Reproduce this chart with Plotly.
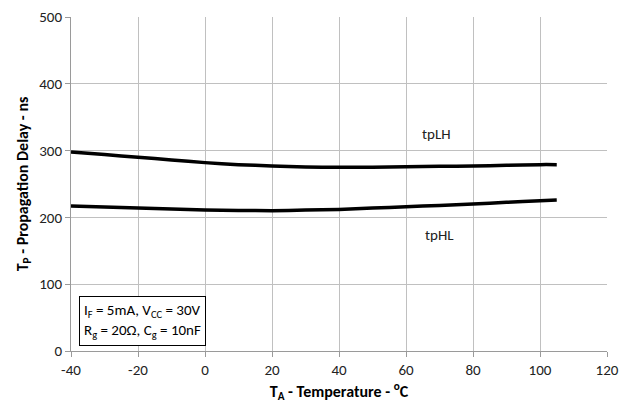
import plotly.graph_objects as go

temps = [-40, -30, -20, -10, 0, 10, 20, 30, 40, 50, 60, 70, 80, 90, 100, 105]
tplh = [298, 294, 290, 286, 282, 279, 277, 275.5, 275, 275, 276, 276.5, 277, 278, 279, 279]
tphl = [217, 215.5, 214, 212.5, 211, 210.5, 210, 211, 212, 214, 216, 218, 220, 222.5, 225, 226]
x_ticks = [-40, -20, 0, 20, 40, 60, 80, 100, 120]
y_ticks = [0, 100, 200, 300, 400, 500]

font = "Carlito, Lato, sans-serif"
fig = go.Figure()
for y in (tplh, tphl):
    fig.add_trace(go.Scatter(x=temps, y=y, mode="lines",
                             line=dict(color="black", width=3.5, shape="spline", smoothing=0.6),
                             showlegend=False))

fig.add_shape(type="rect", x0=63.3, x1=75.8, y0=296, y1=312, fillcolor="white", line_width=0, layer="below")
fig.add_annotation(x=69, y=325, text="tpLH", showarrow=False,
                   font=dict(family=font, size=15, color="#222"))
fig.add_annotation(x=70, y=174, text="tpHL", showarrow=False,
                   font=dict(family=font, size=15, color="#222"))
fig.add_annotation(x=-37.6, y=7.5, xanchor="left", yanchor="bottom", align="left", showarrow=False,
                   text="I<sub>F</sub> = 5mA, V<sub>CC</sub> = 30V<br>R<sub>g</sub> = 20Ω, C<sub>g</sub> = 10nF",
                   font=dict(family=font, size=15, color="black"), bordercolor="black", borderwidth=1,
                   bgcolor="white", borderpad=4)

axcommon = dict(showgrid=True, gridcolor="#c0c0c0", gridwidth=1, showline=True, linecolor="#9a9a9a",
                ticks="outside", ticklen=5, tickcolor="#9a9a9a", zeroline=False, automargin=False,
                tickfont=dict(family=font, size=15, color="#222"))
fig.update_xaxes(range=[-40, 120], tickvals=x_ticks, ticktext=[str(v) for v in x_ticks], **axcommon,
                 title=dict(text="<b>T<sub>A</sub> - Temperature - <sup>o</sup>C</b>",
                            font=dict(family=font, size=16, color="black"), standoff=7))
fig.update_yaxes(range=[0, 500], tickvals=y_ticks, ticktext=[str(v) for v in y_ticks], **axcommon,
                 title=dict(text="<b>T<sub>P</sub> - Propagation Delay - ns</b>",
                            font=dict(family=font, size=16, color="black"), standoff=6))
fig.update_layout(width=622, height=409, margin=dict(l=71, r=15, t=17, b=58),
                  plot_bgcolor="white", paper_bgcolor="white")
fig.write_html("out.html", config={"displayModeBar": False},
               post_script="document.body.style.margin='0px';")
